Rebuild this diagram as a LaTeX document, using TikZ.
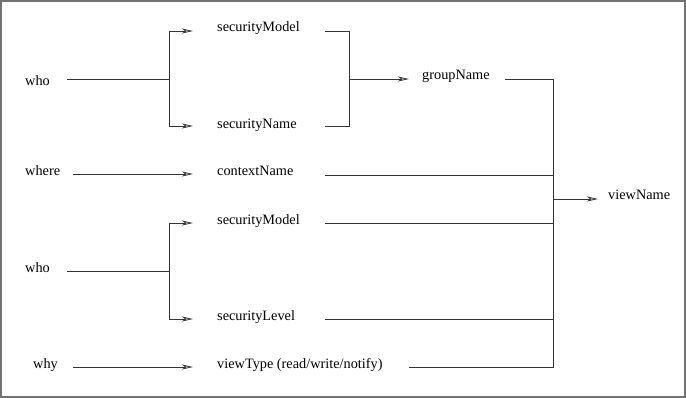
\documentclass[tikz,border=0pt]{standalone}
\usepackage{fontspec}
\setmainfont{Liberation Serif}
\usetikzlibrary{arrows.meta}
\begin{document}
\begin{tikzpicture}[x=1pt,y=-1pt,
  font=\fontsize{14.3}{17}\selectfont,
  lbl/.style={anchor=base west, inner sep=0pt},
  conn/.style={draw=black!80, line width=0.8pt},
  arr/.style={conn, -{Stealth[open,length=11pt,width=5pt,inset=3pt]}}]
\useasboundingbox (0,0) rectangle (686,398);
\draw[draw=black!55, line width=1.6pt] (0.8,0.8) rectangle (685.2,397.2);

% labels
\node[lbl] (who1) at (25,86) {who};
\node[lbl] (smA) at (217,32) {securityModel};
\node[lbl] (sn) at (217,129) {securityName};
\node[lbl] (gn) at (422,80) {groupName};
\node[lbl] (where) at (25,176) {where};
\node[lbl] (cn) at (217,176) {contextName};
\node[lbl] (smB) at (217,225) {securityModel};
\node[lbl] (who2) at (25,273) {who};
\node[lbl] (sl) at (217,320) {securityLevel};
\node[lbl] (why) at (33,368) {why};
\node[lbl] (vt) at (217,368) {viewType (read/write/notify)};
\node[lbl] (vn) at (608,200) {viewName};

% connector points
\coordinate (w1s) at (67,79);
\coordinate (j1) at (169,79);
\coordinate (j1t) at (169,31);
\coordinate (j1b) at (169,126);
\coordinate (smAt) at (193,31);
\coordinate (snt) at (193,126);
\coordinate (smAo) at (325,31);
\coordinate (sno) at (325,126);
\coordinate (g1t) at (349,31);
\coordinate (g1b) at (349,126);
\coordinate (g1) at (349,79);
\coordinate (gnt) at (409,79);
\coordinate (gno) at (505,79);
\coordinate (vtop) at (553,79);
\coordinate (vbot) at (553,367);
\coordinate (vmid) at (553,199);
\coordinate (vnt) at (598,199);
\coordinate (wherestart) at (73,174);
\coordinate (cnt) at (193,174);
\coordinate (cno) at (325,175);
\coordinate (cnj) at (553,175);
\coordinate (w2s) at (67,271);
\coordinate (j2) at (169,271);
\coordinate (j2t) at (169,223);
\coordinate (j2b) at (169,319);
\coordinate (smBt) at (193,223);
\coordinate (slt) at (193,319);
\coordinate (smBo) at (325,223);
\coordinate (smBj) at (553,223);
\coordinate (slo) at (325,319);
\coordinate (slj) at (553,319);
\coordinate (whystart) at (73,367);
\coordinate (vtt) at (193,367);
\coordinate (vto) at (409,367);

% first who fan-out
\draw[conn] (w1s) -- (j1);
\draw[arr] (j1) -- (j1t) -- (smAt);
\draw[arr] (j1) -- (j1b) -- (snt);
% merge to groupName
\draw[conn] (smAo) -- (g1t) -- (g1b) -- (sno);
\draw[arr] (g1) -- (gnt);
% groupName to collector
\draw[conn] (gno) -- (vtop) -- (vbot) -- (vto);
\draw[arr] (vmid) -- (vnt);
% where
\draw[arr] (wherestart) -- (cnt);
\draw[conn] (cno) -- (cnj);
% second who fan-out
\draw[conn] (w2s) -- (j2);
\draw[arr] (j2) -- (j2t) -- (smBt);
\draw[arr] (j2) -- (j2b) -- (slt);
\draw[conn] (smBo) -- (smBj);
\draw[conn] (slo) -- (slj);
% why
\draw[arr] (whystart) -- (vtt);
\end{tikzpicture}
\end{document}
